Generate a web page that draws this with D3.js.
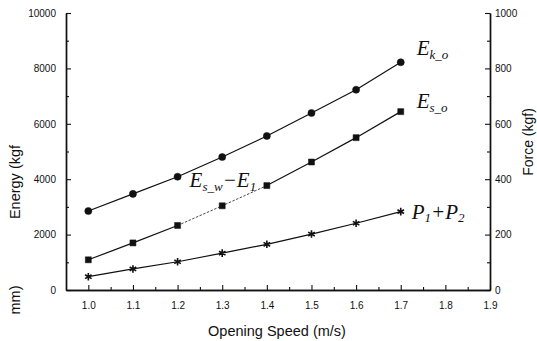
<!DOCTYPE html>
<html>
<head>
<meta charset="utf-8">
<script src="https://cdn.jsdelivr.net/npm/d3@7"></script>
<style>
  body { margin: 0; background: #fff; }
  text { font-family: Arial, "Liberation Sans", sans-serif; fill: #111; }
  .lbl { font-family: "Liberation Serif", "DejaVu Serif", serif; font-style: italic; }
</style>
</head>
<body>
<div id="chart"></div>
<script>
// opening speed (m/s)
var speed = [1.0, 1.1, 1.2, 1.3, 1.4, 1.5, 1.6, 1.7];
// energy series, left axis
var ekO = [2850, 3470, 4090, 4800, 5560, 6390, 7230, 8220];
var esO = [1090, 1700, 2330, 3040, 3770, 4620, 5500, 6440];
// force series, right axis (kgf)
var p12 = [48, 76, 102, 133, 165, 202, 241, 283];

var xTicks = [1.0, 1.1, 1.2, 1.3, 1.4, 1.5, 1.6, 1.7, 1.8, 1.9];
var energyTicks = [0, 2000, 4000, 6000, 8000, 10000];
var forceTicks = [0, 200, 400, 600, 800, 1000];

var svg = d3.select("#chart").append("svg")
  .attr("width", 537)
  .attr("height", 341);

var x = d3.scaleLinear().domain([0.95, 1.9]).range([66, 490]);
var yE = d3.scaleLinear().domain([0, 10000]).range([290, 13]);
var yF = d3.scaleLinear().domain([0, 1000]).range([290, 13]);

// minor ticks first
svg.append("g")
  .attr("transform", "translate(0,290)")
  .call(d3.axisBottom(x).tickValues(d3.range(1.05, 1.9, 0.1)).tickSize(-3).tickSizeOuter(0).tickFormat(""));
svg.append("g")
  .attr("transform", "translate(66,0)")
  .call(d3.axisLeft(yE).tickValues(d3.range(1000, 10000, 2000)).tickSize(-3).tickSizeOuter(0).tickFormat(""));
svg.append("g")
  .attr("transform", "translate(490,0)")
  .call(d3.axisRight(yF).tickValues(d3.range(100, 1000, 200)).tickSize(-3).tickSizeOuter(0).tickFormat(""));

var xAxis = svg.append("g")
  .attr("transform", "translate(0,290)")
  .call(d3.axisBottom(x).tickValues(xTicks).tickSize(-5).tickSizeOuter(0).tickPadding(12).tickFormat(d3.format(".1f")));
var yAxisL = svg.append("g")
  .attr("transform", "translate(66,0)")
  .call(d3.axisLeft(yE).tickValues(energyTicks).tickSize(-5).tickSizeOuter(0).tickPadding(10).tickFormat(d3.format("d")));
var yAxisR = svg.append("g")
  .attr("transform", "translate(490,0)")
  .call(d3.axisRight(yF).tickValues(forceTicks).tickSize(-5).tickSizeOuter(0).tickPadding(5).tickFormat(d3.format("d")));

svg.selectAll(".domain").attr("stroke", "#111").attr("stroke-width", 1.4);
svg.selectAll(".tick line").attr("stroke", "#111").attr("stroke-width", 1.1);
svg.selectAll(".tick text").style("font-size", "10px").attr("fill", "#111");

// axis titles
svg.append("text")
  .attr("x", 277).attr("y", 336)
  .attr("text-anchor", "middle")
  .style("font-size", "14.5px")
  .text("Opening Speed (m/s)");
svg.append("text")
  .attr("transform", "translate(20,182) rotate(-90)")
  .attr("text-anchor", "middle")
  .style("font-size", "14.5px")
  .text("Energy (kgf");
svg.append("text")
  .attr("transform", "translate(20,300) rotate(-90)")
  .attr("text-anchor", "middle")
  .style("font-size", "14.5px")
  .text("mm)");
svg.append("text")
  .attr("transform", "translate(533,142) rotate(-90)")
  .attr("text-anchor", "middle")
  .style("font-size", "14px")
  .text("Force (kgf)");

// series
var series = [
  { vals: ekO, y: yE, sym: d3.symbolCircle, size: 40 },
  { vals: esO, y: yE, sym: d3.symbolSquare, size: 36 },
  { vals: p12, y: yF, sym: d3.symbolAsterisk, size: 40 }
];

series.forEach(function(s, k) {
  var pts = speed.map(function(v, i) { return [x(v), s.y(s.vals[i])]; });
  var line = d3.line();
  if (k == 1) {
    // middle curve looks faint / broken between 1.2 and 1.4
    svg.append("path").attr("d", line(pts.slice(0, 3)))
      .attr("fill", "none").attr("stroke", "#111").attr("stroke-width", 1.2);
    svg.append("path").attr("d", line(pts.slice(2, 5)))
      .attr("fill", "none").attr("stroke", "#333").attr("stroke-width", 0.9)
      .attr("stroke-dasharray", "2.5,1.5");
    svg.append("path").attr("d", line(pts.slice(4)))
      .attr("fill", "none").attr("stroke", "#111").attr("stroke-width", 1.2);
  } else {
    svg.append("path").attr("d", line(pts))
      .attr("fill", "none").attr("stroke", "#111").attr("stroke-width", 1.2);
  }
  svg.selectAll(null).data(pts).enter().append("path")
    .attr("transform", function(d) { return "translate(" + d[0] + "," + d[1] + ")"; })
    .attr("d", d3.symbol().type(s.sym).size(s.size))
    .attr("fill", "#111")
    .attr("stroke", "#111")
    .attr("stroke-width", k == 2 ? 1.6 : 0.5);
});

// curve labels
function label(px, py, parts) {
  var t = svg.append("text").attr("class", "lbl")
    .attr("x", px).attr("y", py)
    .style("font-size", "21px");
  parts.forEach(function(p) {
    t.append("tspan")
      .attr("dy", p.dy || 0)
      .style("font-size", p.sub ? "13px" : "21px")
      .text(p.t);
  });
}
label(x(1.7) + 16, yE(8220) - 7, [
  { t: "E" }, { t: "k_o", sub: true, dy: 4 }
]);
label(x(1.7) + 16, yE(6440) - 4, [
  { t: "E" }, { t: "s_o", sub: true, dy: 4 }
]);
label(x(1.2) + 12, yE(3770) + 1, [
  { t: "E" }, { t: "s_w", sub: true, dy: 4 },
  { t: "\u2212E", dy: -4 }, { t: "1", sub: true, dy: 4 }
]);
label(x(1.7) + 11, yF(283) + 7, [
  { t: "P" }, { t: "1", sub: true, dy: 3 },
  { t: "+P", dy: -3 }, { t: "2", sub: true, dy: 3 }
]);
</script>
</body>
</html>
